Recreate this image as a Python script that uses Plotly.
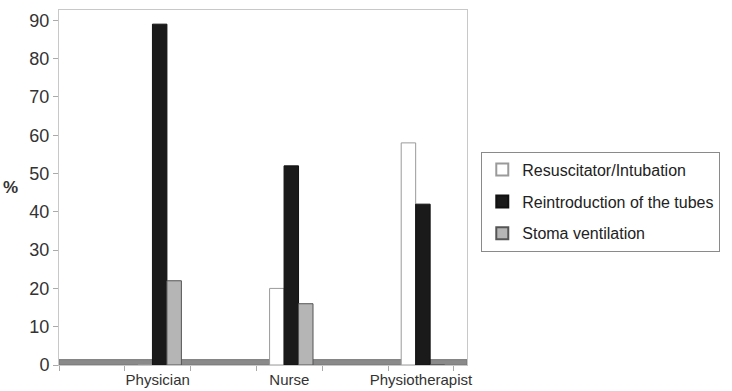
import plotly.graph_objects as go

categories = ["Physician", "Nurse", "Physiotherapist"]
resuscitator = [0, 20, 58]
reintroduction = [89, 52, 42]
stoma = [22, 16, 0]
y_ticks = [0, 10, 20, 30, 40, 50, 60, 70, 80, 90]

# category centres on a numeric axis with empty slots in between
x_pos = [2 * i + 1.5 for i in range(len(categories))]

series = [
    ("Resuscitator/Intubation", resuscitator, "#ffffff", "#9a9a9a", -0.30),
    ("Reintroduction of the tubes", reintroduction, "#1a1a1a", "#111111", -0.08),
    ("Stoma ventilation", stoma, "#b5b5b5", "#555555", 0.14),
]

fig = go.Figure()
for i, (name, vals, fill, line, off) in enumerate(series):
    fig.add_trace(go.Bar(
        x=x_pos, y=vals, name=name, width=0.22, offset=off,
        legendgroup=f"g{i}",
        marker=dict(color=fill, line=dict(color=line, width=1)),
    ))

# floor band
fig.add_shape(type="rect", xref="x", yref="y", x0=0, x1=6.2, y0=0, y1=1.4,
              fillcolor="#8a8a8a", line=dict(color="#777777", width=1), layer="below")

fig.update_layout(
    width=732, height=391,
    margin=dict(l=59, r=265, t=10, b=26),
    paper_bgcolor="white", plot_bgcolor="white",
    barmode="overlay",
    font=dict(family="Liberation Sans, Arial, sans-serif", color="#333333"),
    showlegend=True,
    legend=dict(
        x=1.035, y=0.46, xanchor="left", yanchor="middle",
        bordercolor="#8a8a8a", borderwidth=1, bgcolor="white",
        font=dict(size=16, color="#222222"),
        itemsizing="constant", traceorder="grouped", tracegroupgap=8,
    ),
    xaxis=dict(
        range=[0, 6.2], tickvals=x_pos, ticktext=categories,
        ticks="", showgrid=False, zeroline=False, automargin=False,
        showline=True, linecolor="#c8c8c8", mirror=True,
        tickfont=dict(size=15, color="#333333"),
        ticklabelstandoff=1,
        minor=dict(tick0=0, dtick=1, ticks="outside", ticklen=5, tickcolor="#aaaaaa", showgrid=False),
    ),
    yaxis=dict(
        range=[0, 92.7], tickvals=y_ticks, automargin=False,
        ticks="outside", ticklen=5, tickcolor="#aaaaaa",
        showgrid=False, zeroline=False,
        showline=True, linecolor="#c8c8c8", mirror=True,
        tickfont=dict(size=18, color="#333333"),
    ),
)

fig.add_annotation(text="<b>%</b>", xref="paper", yref="paper", x=-0.12, y=0.5,
                   xanchor="center", yanchor="middle", showarrow=False,
                   font=dict(size=17, color="#333333"))

fig.write_html("out.html")
